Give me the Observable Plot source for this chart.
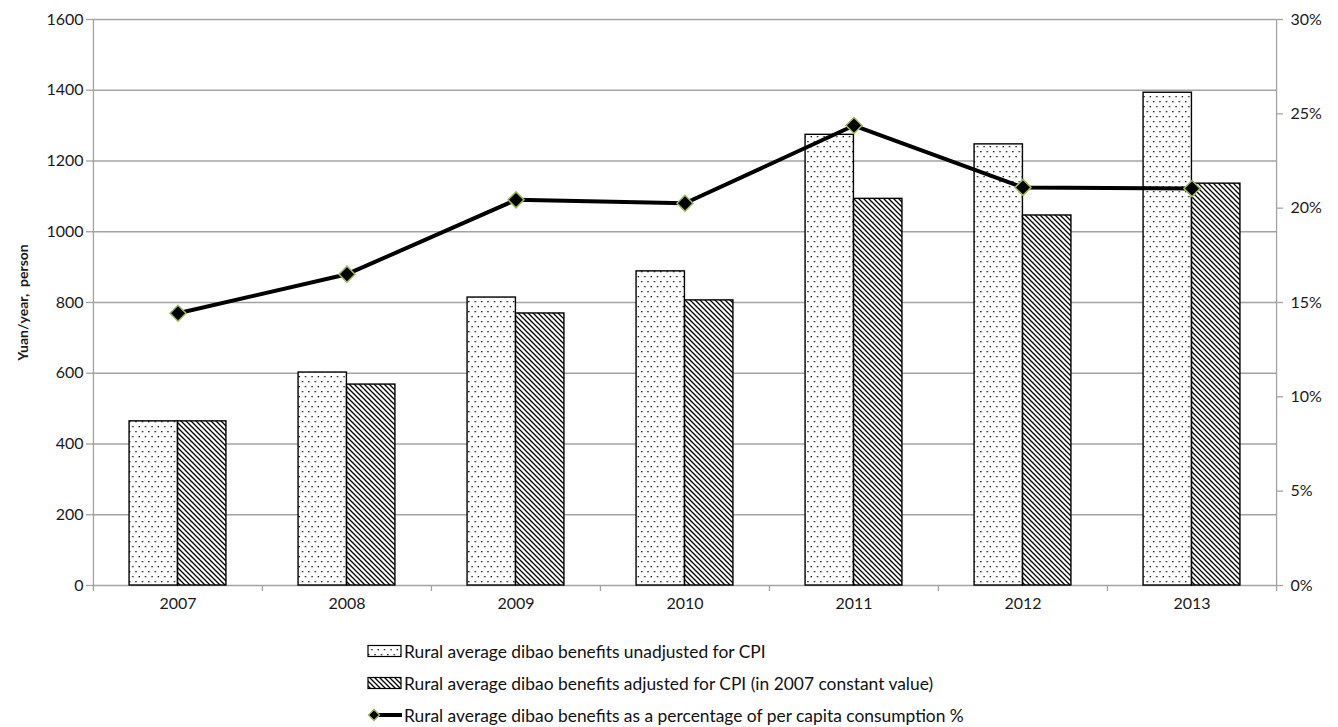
<!DOCTYPE html>
<html>
<head>
<meta charset="utf-8">
<script src="https://cdn.jsdelivr.net/npm/d3@7"></script>
<script src="https://cdn.jsdelivr.net/npm/@observablehq/plot@0.6"></script>
<style>
  body { margin: 0; background: #fff; font-family: Lato, "Open Sans", sans-serif; }
  #chart svg { display: block; }
  .legend { margin-left: 367px; margin-top: 10px; font-size: 17.4px; color: #111; }
  .legend .row { display: flex; align-items: center; height: 32px; }
  .legend svg { display: block; margin-right: 1px; }
</style>
</head>
<body>
<div id="chart"></div>
<div class="legend" id="legend"></div>
<script>
// Rural dibao benefits, 2007–2013
const years = ["2007", "2008", "2009", "2010", "2011", "2012", "2013"];
const unadjusted = [464, 602, 814, 888, 1274, 1247, 1393];   // yuan/year per person
const adjusted = [464, 568, 769, 806, 1093, 1046, 1136];     // yuan/year per person, 2007 prices
const pctConsumption = [14.43, 16.5, 20.44, 20.26, 24.38, 21.1, 21.04]; // % of per capita consumption

const leftTicks = [0, 200, 400, 600, 800, 1000, 1200, 1400, 1600];
const rightTicks = [0, 5, 10, 15, 20, 25, 30];
const leftMax = 1600, rightMax = 30;
const toLeft = p => p * leftMax / rightMax;

const seriesNames = [
  "Rural average dibao benefits unadjusted for CPI",
  "Rural average dibao benefits adjusted for CPI (in 2007 constant value)",
  "Rural average dibao benefits as a percentage of per capita consumption %"
];

const rows = years.map((y, i) => ({year: y, unadj: unadjusted[i], adj: adjusted[i], pct: pctConsumption[i]}));

const W = 1338, H = 625;
const mL = 92, mR = 62, mT = 19, mB = 40;
const band = (W - mL - mR) / years.length;
const barW = 48.5;
const gridColor = "#a3a3a3";
const txt = "#1a1a1a";

const chart = Plot.plot({
  width: W, height: H,
  marginLeft: mL, marginRight: mR, marginTop: mT, marginBottom: mB,
  style: {fontFamily: "Lato, 'Open Sans', sans-serif", fontSize: "16px", color: txt, background: "#fff"},
  x: {type: "band", domain: years, padding: 0},
  y: {domain: [0, leftMax]},
  marks: [
    // horizontal gridlines
    Plot.ruleY(leftTicks, {stroke: gridColor, strokeWidth: 1.3}),
    // left and right axis lines
    Plot.ruleX([years[0]], {dx: -band / 2, stroke: gridColor, strokeWidth: 1.3}),
    Plot.ruleX([years[years.length - 1]], {dx: band / 2, stroke: gridColor, strokeWidth: 1.3}),
    // category boundary ticks below the baseline
    Plot.ruleX(years, {x: d => d, dx: -band / 2, y1: 0, y2: 0, insetBottom: -6, stroke: gridColor, strokeWidth: 1.3}),
    Plot.ruleX([years[years.length - 1]], {dx: band / 2, y1: 0, y2: 0, insetBottom: -6, stroke: gridColor, strokeWidth: 1.3}),
    // bars
    Plot.barY(rows, {x: "year", y: "unadj", fill: "url(#dotPattern)", stroke: "#000", strokeWidth: 1.4,
      insetLeft: band / 2 - barW, insetRight: band / 2}),
    Plot.barY(rows, {x: "year", y: "adj", fill: "url(#stripePattern)", stroke: "#000", strokeWidth: 1.4,
      insetLeft: band / 2, insetRight: band / 2 - barW}),
    // percentage line on the secondary scale
    Plot.line(rows, {x: "year", y: d => toLeft(d.pct), stroke: "#000", strokeWidth: 4, curve: "linear"}),
    Plot.dot(rows, {x: "year", y: d => toLeft(d.pct), symbol: "square", rotate: 45, r: 6.4, fill: "#000", stroke: "#9bbb59", strokeWidth: 1.5}),
    // axes
    Plot.axisX({tickSize: 0, tickPadding: 12, label: null}),
    Plot.axisY(leftTicks, {anchor: "left", tickSize: 6, tickPadding: 3, stroke: gridColor, strokeWidth: 1.3,
      tickFormat: d => String(d),
      label: "Yuan/year,  person", labelAnchor: "center", labelOffset: 74, labelArrow: "none"}),
    Plot.axisY(rightTicks.map(toLeft), {anchor: "right", tickSize: 6, tickPadding: 8, stroke: gridColor, strokeWidth: 1.3,
      tickFormat: d => Math.round(d * rightMax / leftMax) + "%", label: null})
  ]
});

// hatch and dot fills
const svg = d3.select(chart);
const defs = svg.insert("defs", ":first-child");
const dots = defs.append("pattern").attr("id", "dotPattern").attr("patternUnits", "userSpaceOnUse")
  .attr("width", 6.4).attr("height", 10);
dots.append("rect").attr("width", 6.4).attr("height", 10).attr("fill", "#fff");
dots.append("rect").attr("x", 1).attr("y", 1).attr("width", 1.3).attr("height", 1.3).attr("fill", "#000");
dots.append("rect").attr("x", 4.2).attr("y", 6).attr("width", 1.3).attr("height", 1.3).attr("fill", "#000");
const stripes = defs.append("pattern").attr("id", "stripePattern").attr("patternUnits", "userSpaceOnUse")
  .attr("width", 5).attr("height", 5);
stripes.append("rect").attr("width", 5).attr("height", 5).attr("fill", "#fff");
stripes.append("path").attr("d", "M-1,-1L6,6M-1,4L1,6M4,-1L6,1").attr("stroke", "#000").attr("stroke-width", 1.3);

// y label in bold
svg.selectAll("g[aria-label='y-axis label']").attr("font-weight", "bold").attr("font-size", 14);

document.getElementById("chart").appendChild(chart);

// legend
const legend = d3.select("#legend");
const addRow = (name, draw) => {
  const row = legend.append("div").attr("class", "row");
  const s = row.append("svg").attr("width", 36).attr("height", 16);
  draw(s);
  row.append("span").text(name);
};
addRow(seriesNames[0], s => s.append("rect").attr("x", 1).attr("y", 2.5).attr("width", 33).attr("height", 11)
  .attr("fill", "url(#dotPattern)").attr("stroke", "#000").attr("stroke-width", 1.2));
addRow(seriesNames[1], s => s.append("rect").attr("x", 1).attr("y", 2.5).attr("width", 33).attr("height", 11)
  .attr("fill", "url(#stripePattern)").attr("stroke", "#000").attr("stroke-width", 1.2));
addRow(seriesNames[2], s => {
  s.append("line").attr("x1", 4).attr("x2", 35).attr("y1", 8).attr("y2", 8).attr("stroke", "#000").attr("stroke-width", 4);
  s.append("path").attr("d", "M7,2.5L12.5,8L7,13.5L1.5,8Z").attr("fill", "#000").attr("stroke", "#9bbb59").attr("stroke-width", 1.3);
});
</script>
</body>
</html>
